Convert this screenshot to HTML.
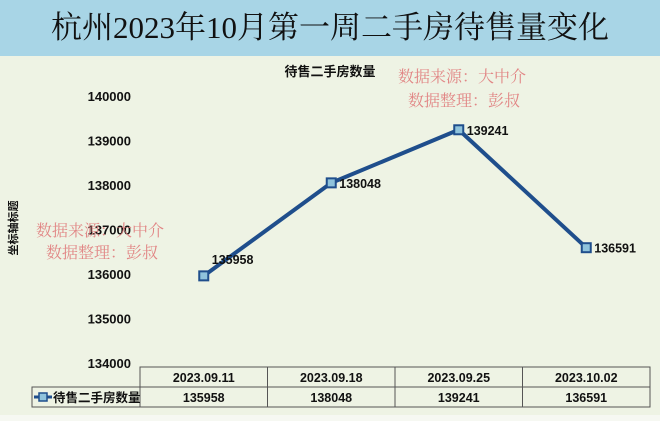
<!DOCTYPE html>
<html><head><meta charset="utf-8"><style>
body{margin:0;width:660px;height:421px;overflow:hidden;background:#eef3e4;font-family:"Liberation Sans","Noto Sans CJK SC",sans-serif}
#title{position:absolute;left:0;top:0;width:660px;height:56px;background:#a8d5e6;text-align:center;line-height:56px;font-family:"Liberation Serif","Noto Serif CJK SC",serif;font-size:31px;color:#111}
svg{position:absolute;left:0;top:0}
</style></head><body>
<div id="title">杭州2023年10月第一周二手房待售量变化</div>
<svg id="c" width="660" height="421"></svg>
<script>
const categories=["2023.09.11","2023.09.18","2023.09.25","2023.10.02"];
const values=[135958,138048,139241,136591];
const yTicks=[134000,135000,136000,137000,138000,139000,140000];
const seriesName="待售二手房数量";
const NS="http://www.w3.org/2000/svg";
const svg=document.getElementById('c');
const x0=140,colW=127.5;
const xs=i=>x0+colW*(i+0.5);
const ys=v=>96+(140000-v)*0.0445;
function mk(t,a,txt){const e=document.createElementNS(NS,t);for(const k in a)e.setAttribute(k,a[k]);if(txt!=null)e.textContent=txt;svg.appendChild(e);return e;}
let e=mk('rect',{x:0,y:415,width:660,height:6,fill:'#f6f8f2'});


e=mk('text',{x:330,y:76,'font-size':13,'font-weight':'bold','text-anchor':'middle',fill:'#111'},seriesName);


e=mk('text',{x:17,y:228,'font-size':11,'font-weight':'bold','text-anchor':'middle',fill:'#111',transform:'rotate(-90 17 228)'},'坐标轴标题');


yTicks.forEach(v=>{
 const t=mk('text',{x:131,y:ys(v)+5,'font-size':13,'font-weight':'bold','text-anchor':'end',fill:'#111'},String(v));
 
 
});
const pts=values.map((v,i)=>xs(i)+','+ys(v)).join(' ');
e=mk('polyline',{points:pts,fill:'none',stroke:'#1f4e8c','stroke-width':4,'stroke-linejoin':'round'});


values.forEach((v,i)=>{
 const m=mk('rect',{x:xs(i)-4.5,y:ys(v)-4.5,width:9,height:9,fill:'#8fc3dc',stroke:'#1f4e8c','stroke-width':2});
 
 
 const l=mk('text',{x:xs(i)+8,y:ys(v)-(i==0?12:-5),'font-size':12.5,'font-weight':'bold',fill:'#111'},String(v));
 
 
});
// data table
const g=[];
e=mk('rect',{x:x0,y:367,width:colW*4,height:40,fill:'none',stroke:'#555','stroke-width':1});


e=mk('rect',{x:32,y:387,width:x0-32,height:20,fill:'none',stroke:'#555','stroke-width':1});


mk('line',{x1:x0,y1:387,x2:x0+colW*4,y2:387,stroke:'#555'});
for(let i=1;i<4;i++)mk('line',{x1:x0+colW*i,y1:367,x2:x0+colW*i,y2:407,stroke:'#555'});
categories.forEach((c,i)=>{
 const t=mk('text',{x:xs(i),y:382,'font-size':12.5,'font-weight':'bold','text-anchor':'middle',fill:'#111'},c);
 
 
 const t2=mk('text',{x:xs(i),y:402,'font-size':12.5,'font-weight':'bold','text-anchor':'middle',fill:'#111'},String(values[i]));
 
 
});
mk('line',{x1:34,y1:397,x2:52,y2:397,stroke:'#1f4e8c','stroke-width':3});
e=mk('rect',{x:39,y:393,width:8,height:8,fill:'#8fc3dc',stroke:'#1f4e8c','stroke-width':1.5});


e=mk('text',{x:53,y:402,'font-size':12.5,'font-weight':'bold',fill:'#111'},seriesName);


// watermarks
[[398,82,'数据来源：大中介'],[408,106,'数据整理：彭叔'],[36,236,'数据来源：大中介'],[46,258,'数据整理：彭叔']].forEach(w=>{
 const t=mk('text',{x:w[0],y:w[1],'font-size':16,fill:'#e07b7b','font-family':'"Liberation Serif","Noto Serif CJK SC",serif',opacity:0.9},w[2]);
 
 
});
</script>
</body></html>
